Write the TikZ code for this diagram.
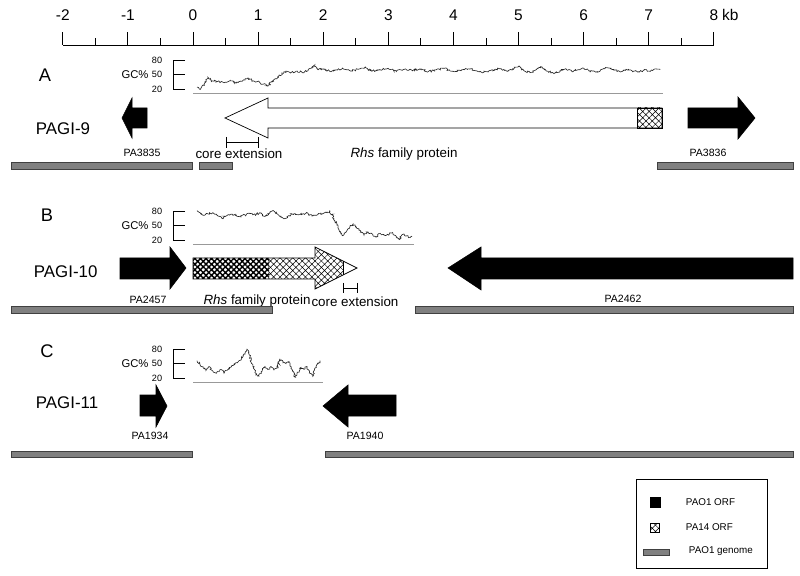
\documentclass[tikz,border=0pt]{standalone}
\usepackage{fontspec}
\setmainfont{Liberation Sans}
\usetikzlibrary{positioning,patterns.meta,decorations.pathmorphing}

\tikzset{
  orf/.style={fill=black,draw=black},
  rhsorf/.style={draw=black,line width=0.5pt},
  genome/.style={fill=black!50,draw=black!75,line width=0.5pt},
  lighthatch/.style={pattern={Hatch[angle=45,distance=3.2pt,line width=0.35pt]}},
  darkhatch/.style={pattern={Hatch[angle=45,distance=2.8pt,line width=1pt]}},
  gcline/.style={black!85,line width=0.45pt,decorate,
    decoration={random steps,segment length=0.8pt,amplitude=0.75pt}},
  gcaxis/.style={black,line width=0.5pt},
  gcbase/.style={black!40,line width=0.5pt},
  bracket/.style={black,line width=0.6pt},
  panel/.style={font=\fontsize{13}{15}\selectfont},
  island/.style={font=\fontsize{12}{14}\selectfont,anchor=west},
  scalelbl/.style={font=\fontsize{11}{13}\selectfont,inner sep=0pt},
  genelbl/.style={font=\fontsize{7.5}{9}\selectfont},
  protlbl/.style={font=\fontsize{9.5}{11}\selectfont},
  gclbl/.style={font=\fontsize{8}{10}\selectfont},
  ticklbl/.style={font=\fontsize{6.5}{8}\selectfont},
  legendlbl/.style={font=\fontsize{7}{9}\selectfont,anchor=west}
}

\begin{document}
\begin{tikzpicture}[x=0.025cm,y=-0.025cm]
  \pgfmathsetseed{4242}
  \useasboundingbox (0,0) rectangle (800,576);

  % kb scale
  \draw[line width=0.6pt] (63,45) -- (714,45);
  \foreach \k [count=\i] in {-2,...,8}{
    \draw[line width=0.6pt] (193+65.1*\k,45) -- ++(0,-13);
    \node[scalelbl] (s\i) at (193+65.1*\k,15) {\k};
  }
  \foreach \k in {-1.5,-0.5,...,7.5}
    \draw[line width=0.6pt] (193+65.1*\k,45) -- ++(0,-6.5);
  \node[scalelbl,right=2.5pt of s11] (kb) {kb};

  % A: PAGI-9
  \node[panel] (lA) at (45,75) {A};
  \node[island] (pagi9) at (31,129) {PAGI-9};
  \begin{scope}[shift={(0,98.6)},yscale=-0.48]
    \node[gclbl] (gcA) at (135,50) {GC\%};
    \node[ticklbl] (gcA80) at (157,80) {80};
    \node[ticklbl] (gcA50) at (157,50) {50};
    \node[ticklbl] (gcA20) at (157,20) {20};
    \draw[gcaxis] (185,80) -- (173,80) -- (173,20) -- (185,20) (173,50) -- (185,50);
    \draw[gcbase] (193,11) -- (663,11);
    \draw[gcline] plot coordinates {(197,24) (200,19) (204,30) (208,44) (212,37)
      (218,36) (224,33) (230,37) (236,32) (242,36) (248,43) (253,37) (258,36)
      (263,30) (268,26) (272,36) (278,45) (284,56) (290,54) (296,57) (302,55)
      (308,58) (314,69) (318,60) (324,62) (330,57) (336,60) (342,62) (350,58)
      (358,61) (366,64) (372,57) (380,60) (388,63) (396,58) (404,61) (412,59)
      (420,62) (428,56) (436,60) (444,63) (452,57) (460,59) (468,62) (476,58)
      (484,55) (492,60) (500,62) (508,57) (514,63) (519,68) (524,58) (530,54)
      (536,60) (542,66) (548,57) (554,52) (560,58) (566,62) (572,56) (578,60)
      (584,63) (590,58) (596,55) (602,61) (608,64) (614,59) (620,56) (626,61)
      (632,58) (638,55) (644,59) (650,57) (656,62) (660,60)};
  \end{scope}
  \fill[orf] (122,118) -- (132,98) -- (132,108) -- (147,108) -- (147,128)
    -- (132,128) -- (132,138) -- cycle;
  \draw[rhsorf,fill=white] (225,118) -- (268,98) -- (268,108) -- (662,108)
    -- (662,128) -- (268,128) -- (268,138) -- cycle;
  \draw[rhsorf,lighthatch] (637,108) rectangle (662,128);
  \fill[orf] (688,108) -- (738,108) -- (738,97) -- (755,118) -- (738,139)
    -- (738,128) -- (688,128) -- cycle;
  \draw[bracket] (226,137) -- (226,148) (226,142) -- (258,142) (258,137) -- (258,148);
  \node[genelbl] (pa3835) at (142,153) {PA3835};
  \node[protlbl] (coreA) at (239,154) {core extension};
  \node[protlbl] (rhsA) at (404,154) {\textit{Rhs} family protein};
  \node[genelbl] (pa3836) at (708,153) {PA3836};
  \draw[genome] (11,162) rectangle (192,169);
  \draw[genome] (199,162) rectangle (232,169);
  \draw[genome] (657,162) rectangle (793,169);

  % B: PAGI-10
  \node[panel] (lB) at (47,215) {B};
  \node[island] (pagi10) at (29,272) {PAGI-10};
  \begin{scope}[shift={(0,249.6)},yscale=-0.48]
    \node[gclbl] (gcB) at (135,50) {GC\%};
    \node[ticklbl] (gcB80) at (157,80) {80};
    \node[ticklbl] (gcB50) at (157,50) {50};
    \node[ticklbl] (gcB20) at (157,20) {20};
    \draw[gcaxis] (185,80) -- (173,80) -- (173,20) -- (185,20) (173,50) -- (185,50);
    \draw[gcbase] (193,11) -- (414,11);
    \draw[gcline] plot coordinates {(197,81) (201,74) (205,72) (210,76) (216,74)
      (222,65) (227,71) (232,74) (238,69) (245,72) (250,75) (255,73) (260,76)
      (265,69) (270,77) (274,80) (279,71) (284,64) (289,71) (294,75) (300,73)
      (306,76) (312,70) (318,74) (323,75) (327,78) (330,80) (334,64) (338,45)
      (342,30) (346,36) (350,48) (353,53) (357,44) (361,38) (364,30) (368,37)
      (372,33) (376,26) (380,34) (384,30) (388,31) (392,35) (396,28) (399,21)
      (403,32) (407,29) (410,25) (412,28)};
  \end{scope}
  \fill[orf] (120,258) -- (170,258) -- (170,247) -- (186,268) -- (170,289)
    -- (170,279) -- (120,279) -- cycle;
  \fill[white] (193,258) -- (315,258) -- (315,247) -- (357,268) -- (315,289)
    -- (315,279) -- (193,279) -- cycle;
  \begin{scope}
    \clip (193,258) -- (315,258) -- (315,247) -- (357,268) -- (315,289)
      -- (315,279) -- (193,279) -- cycle;
    \fill[darkhatch] (193,240) rectangle (269,295);
    \fill[lighthatch] (269,240) rectangle (343,295);
  \end{scope}
  \draw[rhsorf] (343,261) -- (343,275);
  \draw[rhsorf] (193,258) -- (315,258) -- (315,247) -- (357,268) -- (315,289)
    -- (315,279) -- (193,279) -- cycle;
  \fill[orf] (793,258) -- (481,258) -- (481,247) -- (448,268) -- (481,290)
    -- (481,279) -- (793,279) -- cycle;
  \draw[bracket] (343,283) -- (343,293) (343,288) -- (357,288) (357,283) -- (357,293);
  \node[genelbl] (pa2457) at (148,300) {PA2457};
  \node[protlbl] (rhsB) at (257,301) {\textit{Rhs} family protein};
  \node[protlbl] (coreB) at (355,302) {core extension};
  \node[genelbl] (pa2462) at (623,299) {PA2462};
  \draw[genome] (11,306) rectangle (272,313);
  \draw[genome] (415,306) rectangle (793,313);

  % C: PAGI-11
  \node[panel] (lC) at (47,351) {C};
  \node[island] (pagi11) at (31,403) {PAGI-11};
  \begin{scope}[shift={(0,387.6)},yscale=-0.48]
    \node[gclbl] (gcC) at (135,50) {GC\%};
    \node[ticklbl] (gcC80) at (157,80) {80};
    \node[ticklbl] (gcC50) at (157,50) {50};
    \node[ticklbl] (gcC20) at (157,20) {20};
    \draw[gcaxis] (185,80) -- (173,80) -- (173,20) -- (185,20) (173,50) -- (185,50);
    \draw[gcbase] (193,11) -- (323,11);
    \draw[gcline] plot coordinates {(197,56) (200,48) (203,42) (206,36) (209,44)
      (212,36) (215,31) (218,34) (221,38) (224,30) (227,36) (230,42) (233,46)
      (236,52) (239,56) (242,62) (244,70) (247,80) (250,64) (253,44) (256,27)
      (259,24) (262,34) (265,44) (268,38) (271,44) (274,36) (277,40) (280,60)
      (283,52) (286,50) (289,54) (292,38) (295,22) (298,32) (301,42) (304,38)
      (307,44) (310,30) (313,24) (316,44) (319,52) (320,56)};
  \end{scope}
  \fill[orf] (140,395) -- (156,395) -- (156,385) -- (167,406) -- (156,427)
    -- (156,416) -- (140,416) -- cycle;
  \fill[orf] (396,395) -- (348,395) -- (348,385) -- (323,406) -- (348,427)
    -- (348,416) -- (396,416) -- cycle;
  \node[genelbl] (pa1934) at (150,436) {PA1934};
  \node[genelbl] (pa1940) at (365,436) {PA1940};
  \draw[genome] (11,451) rectangle (192,457);
  \draw[genome] (325,451) rectangle (793,457);

  % legend
  \draw[line width=0.5pt] (636,479) rectangle (767,568);
  \fill[orf] (650,497) rectangle (660,507);
  \draw[line width=0.4pt,fill=white] (650.5,523.5) rectangle (659.5,532.5);
  \path[lighthatch] (650.5,523.5) rectangle (659.5,532.5);
  \draw[genome] (643,549) rectangle (669,555);
  \node[legendlbl] (keyorf) at (681,502) {PAO1 ORF};
  \node[legendlbl] (keypa14) at (681,527) {PA14 ORF};
  \node[legendlbl] (keygenome) at (684,551) {PAO1 genome};
\end{tikzpicture}
\end{document}
